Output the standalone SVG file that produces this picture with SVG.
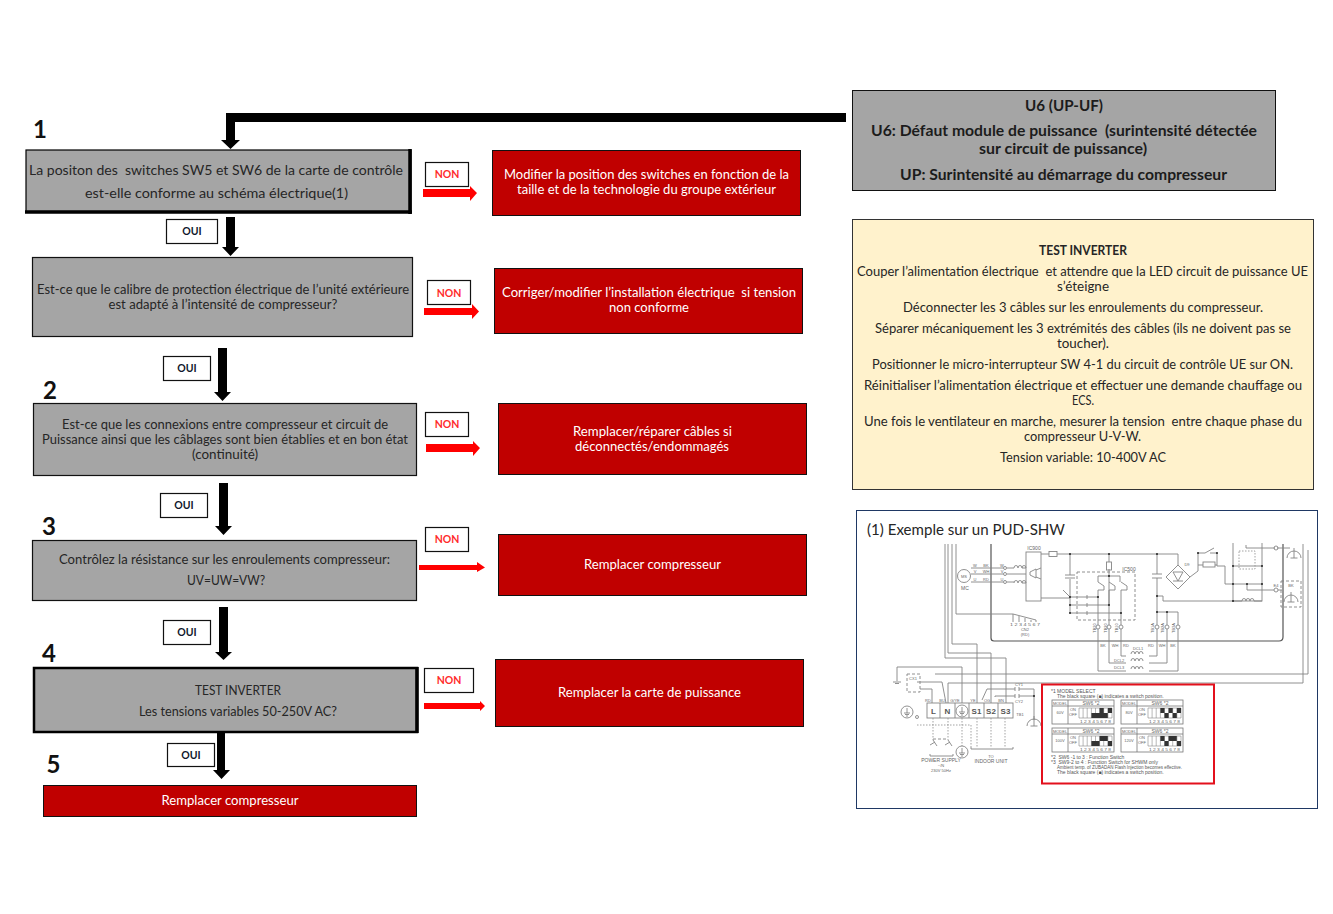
<svg xmlns="http://www.w3.org/2000/svg" xmlns:xlink="http://www.w3.org/1999/xlink" width="1333" height="914" viewBox="0 0 1333 914">
<style>
text{font-family:"Lato","Liberation Sans",sans-serif;font-size:13px;fill:#262626;text-anchor:middle;white-space:pre}
.q{fill:#a5a5a5;stroke:#111;stroke-width:1.2}
.r{fill:#c00000;stroke:#111;stroke-width:1}
.r2{fill:#fff}
.lab{fill:#fff;stroke:#111;stroke-width:1.2}
.no{font-size:10.500px;font-weight:700;fill:#ff2b2b}
.oui{font-size:10.500px;font-weight:700;fill:#10182c}
.num{font-size:24px;font-weight:700;fill:#111;text-anchor:start}
.b{font-weight:700;font-size:15px;fill:#1c1c1c}
.w{fill:none;stroke:#858585;stroke-width:.9}
.wd{fill:none;stroke:#858585;stroke-width:.9;stroke-dasharray:3 2}
.wt{fill:none;stroke:#999;stroke-width:.9;stroke-dasharray:1.500 1.500}
.wm{fill:none;stroke:#555;stroke-width:1.200}
.t{font-family:"Liberation Sans",sans-serif;font-size:5px;fill:#666}
.s{font-family:"Liberation Sans",sans-serif;font-size:4px;fill:#666}
.tb{font-family:"Liberation Sans",sans-serif;font-size:8px;font-weight:700;fill:#555}
.tl{font-family:"Liberation Sans",sans-serif;font-size:5px;fill:#555;text-anchor:start}
.tbl{fill:#fff;stroke:#777;stroke-width:.8}
</style>
<defs>
<g id="dip"><path d="M0 0h33v10H0zM4.100 0v10M8.200 0v10M12.400 0v10M16.500 0v10M20.600 0v10M24.700 0v10M28.900 0v10" fill="#fff" stroke="#888" stroke-width=".6"/><text class="s" x="16.500" y="14.500" textLength="31" lengthAdjust="spacingAndGlyphs">1 2 3 4 5 6 7 8</text></g>
<g id="gnd"><path d="M-7 3a7 7 0 0 1 14 0M0 -7V3M-3.500 3h7" fill="none" stroke="#858585" stroke-width=".9"/></g>
<g id="ear"><circle r="6" fill="none" stroke="#777" stroke-width=".8"/><path d="M0 -4V1M-3 1h6M-2 2.500h4M-1 4h2" fill="none" stroke="#777" stroke-width=".8"/></g>
<g id="coil"><path d="M0 0a2 2.500 0 0 1 4 0a2 2.500 0 0 1 4 0a2 2.500 0 0 1 4 0" fill="none" stroke="#858585" stroke-width=".9"/></g>
</defs>

<g id="connectors">
<path d="M846 113H226V140H221L230.500 149L240 140H235V122H846Z" fill="#000"/>
<path d="M226 217H235V247H239L230.500 256L222 247H226Z" fill="#000"/>
<path d="M218 348H227V392H231L222.500 401L214 392H218Z" fill="#000"/>
<path d="M219 483H228V526H232L223.500 535L215 526H219Z" fill="#000"/>
<path d="M219 607H228V652H232L223.500 660L215 652H219Z" fill="#000"/>
<path d="M217 733H225V770H230L221.500 779L213 770H217Z" fill="#000"/>
<path d="M423 189H470V186L477 193L470 201V197H423Z" fill="#f00"/>
<path d="M424 308H472V304L479 311.500L472 319V315H424Z" fill="#f00"/>
<path d="M426 444H473V441L480 448L473 456V452H426Z" fill="#f00"/>
<path d="M419 565H477V562L485 567.500L477 572V570H419Z" fill="#f00"/>
<path d="M424 703H480V701L485 706L480 711V709H424Z" fill="#f00"/>
</g>

<g id="n1-num"><text class="num" x="33" y="138">1</text></g>
<g id="n2-num"><text class="num" x="43" y="399">2</text></g>
<g id="n3-num"><text class="num" x="42" y="535">3</text></g>
<g id="n4-num"><text class="num" x="42" y="662">4</text></g>
<g id="n5-num"><text class="num" x="46.500" y="773">5</text></g>

<g id="q1"><rect x="26" y="150" width="385" height="62" fill="#a5a5a5" stroke="#000" stroke-width="1.200"/><path d="M25 212H412M410 149V214" stroke="#000" stroke-width="3.500" fill="none"/>
<text x="216" y="175" textLength="374" lengthAdjust="spacingAndGlyphs">La positon des  switches SW5 et SW6 de la carte de contrôle</text>
<text x="216.500" y="198" textLength="263" lengthAdjust="spacingAndGlyphs">est-elle conforme au schéma électrique(1)</text></g>
<g id="q2"><rect class="q" x="32.500" y="257.500" width="380" height="79"/>
<text x="223" y="294" textLength="372" lengthAdjust="spacingAndGlyphs">Est-ce que le calibre de protection électrique de l’unité extérieure</text>
<text x="223" y="309" textLength="229" lengthAdjust="spacingAndGlyphs">est adapté à l’intensité de compresseur?</text></g>
<g id="q3"><rect class="q" x="33.500" y="403.500" width="383" height="72"/>
<text x="225" y="429" textLength="326" lengthAdjust="spacingAndGlyphs">Est-ce que les connexions entre compresseur et circuit de</text>
<text x="225" y="444" textLength="366" lengthAdjust="spacingAndGlyphs">Puissance ainsi que les câblages sont bien établies et en bon état</text>
<text x="225" y="459" textLength="66" lengthAdjust="spacingAndGlyphs">(continuité)</text></g>
<g id="q4"><rect class="q" x="32.500" y="540.500" width="384" height="60"/>
<text x="224.500" y="564" textLength="331" lengthAdjust="spacingAndGlyphs">Contrôlez la résistance sur les enroulements compresseur:</text>
<text x="226" y="585" textLength="78" lengthAdjust="spacingAndGlyphs">UV=UW=VW?</text></g>
<g id="q5"><rect x="34" y="668" width="383" height="64" fill="#a5a5a5" stroke="#000" stroke-width="2.500"/><path d="M417 667V733" stroke="#000" stroke-width="3.500"/>
<text x="238" y="695" textLength="86" lengthAdjust="spacingAndGlyphs">TEST INVERTER</text>
<text x="238" y="716" textLength="198" lengthAdjust="spacingAndGlyphs">Les tensions variables 50-250V AC?</text></g>
<g id="end"><rect class="r" x="43.500" y="785.500" width="373" height="31"/>
<text class="r2" x="230" y="805" textLength="137" lengthAdjust="spacingAndGlyphs">Remplacer compresseur</text></g>

<g id="o1"><rect class="lab" x="166.500" y="219.500" width="51" height="24"/><text class="oui" x="192" y="235">OUI</text></g>
<g id="o2"><rect class="lab" x="163.500" y="356.500" width="47" height="24"/><text class="oui" x="187" y="372">OUI</text></g>
<g id="o3"><rect class="lab" x="160.500" y="493.500" width="47" height="24"/><text class="oui" x="184" y="509">OUI</text></g>
<g id="o4"><rect class="lab" x="163.500" y="620.500" width="47" height="24"/><text class="oui" x="187" y="636">OUI</text></g>
<g id="o5"><rect class="lab" x="167.500" y="743.500" width="47" height="23"/><text class="oui" x="191" y="759">OUI</text></g>

<g id="n1"><rect class="lab" x="425.500" y="162.500" width="43" height="24"/><text class="no" x="447" y="178">NON</text></g>
<g id="n2"><rect class="lab" x="427.500" y="280.500" width="43" height="24"/><text class="no" x="449" y="296.500">NON</text></g>
<g id="n3"><rect class="lab" x="425.500" y="412.500" width="43" height="24"/><text class="no" x="447" y="428">NON</text></g>
<g id="n4"><rect class="lab" x="425.500" y="527.500" width="43" height="24"/><text class="no" x="447" y="543">NON</text></g>
<g id="n5"><rect class="lab" x="424.500" y="668.500" width="49" height="24"/><text class="no" x="449" y="684">NON</text></g>

<g id="a1"><rect class="r" x="492.500" y="150.500" width="308" height="65"/>
<text class="r2" x="646.500" y="179" textLength="285" lengthAdjust="spacingAndGlyphs">Modifier la position des switches en fonction de la</text>
<text class="r2" x="646.500" y="194" textLength="259" lengthAdjust="spacingAndGlyphs">taille et de la technologie du groupe extérieur</text></g>
<g id="a2"><rect class="r" x="494.500" y="268.500" width="308" height="65"/>
<text class="r2" x="649" y="297" textLength="294" lengthAdjust="spacingAndGlyphs">Corriger/modifier l’installation électrique  si tension</text>
<text class="r2" x="649" y="312" textLength="80" lengthAdjust="spacingAndGlyphs">non conforme</text></g>
<g id="a3"><rect class="r" x="498.500" y="403.500" width="308" height="71"/>
<text class="r2" x="652.500" y="436" textLength="159" lengthAdjust="spacingAndGlyphs">Remplacer/réparer câbles si</text>
<text class="r2" x="652" y="451" textLength="154" lengthAdjust="spacingAndGlyphs">déconnectés/endommagés</text></g>
<g id="a4"><rect class="r" x="498.500" y="534.500" width="308" height="61"/>
<text class="r2" x="652.500" y="569" textLength="137" lengthAdjust="spacingAndGlyphs">Remplacer compresseur</text></g>
<g id="a5"><rect class="r" x="495.500" y="659.500" width="308" height="67"/>
<text class="r2" x="649.500" y="697" textLength="183" lengthAdjust="spacingAndGlyphs">Remplacer la carte de puissance</text></g>

<g id="header"><rect x="852.500" y="90.500" width="423" height="100" fill="#a5a5a5" stroke="#111" stroke-width="1"/>
<text class="b" x="1064" y="111" textLength="78" lengthAdjust="spacingAndGlyphs">U6 (UP-UF)</text>
<text class="b" x="1064" y="136" textLength="386" lengthAdjust="spacingAndGlyphs">U6: Défaut module de puissance  (surintensité détectée</text>
<text class="b" x="1063" y="154" textLength="168" lengthAdjust="spacingAndGlyphs">sur circuit de puissance)</text>
<text class="b" x="1063.500" y="180" textLength="327" lengthAdjust="spacingAndGlyphs">UP: Surintensité au démarrage du compresseur</text></g>

<g id="test"><rect x="852.500" y="219.500" width="461" height="270" fill="#fff2cc" stroke="#333" stroke-width="1"/>
<text x="1083" y="255" textLength="88" lengthAdjust="spacingAndGlyphs" style="font-weight:700">TEST INVERTER</text>
<text x="1082.500" y="276" textLength="451" lengthAdjust="spacingAndGlyphs">Couper l’alimentation électrique  et attendre que la LED circuit de puissance UE</text>
<text x="1083" y="291" textLength="52" lengthAdjust="spacingAndGlyphs">s’éteigne</text>
<text x="1083" y="312" textLength="360" lengthAdjust="spacingAndGlyphs">Déconnecter les 3 câbles sur les enroulements du compresseur.</text>
<text x="1083" y="333" textLength="416" lengthAdjust="spacingAndGlyphs">Séparer mécaniquement les 3 extrémités des câbles (ils ne doivent pas se</text>
<text x="1083" y="348" textLength="52" lengthAdjust="spacingAndGlyphs">toucher).</text>
<text x="1082.500" y="369" textLength="421" lengthAdjust="spacingAndGlyphs">Positionner le micro-interrupteur SW 4-1 du circuit de contrôle UE sur ON.</text>
<text x="1083" y="390" textLength="438" lengthAdjust="spacingAndGlyphs">Réinitialiser l’alimentation électrique et effectuer une demande chauffage ou</text>
<text x="1083" y="405" textLength="22" lengthAdjust="spacingAndGlyphs">ECS.</text>
<text x="1083" y="426" textLength="438" lengthAdjust="spacingAndGlyphs">Une fois le ventilateur en marche, mesurer la tension  entre chaque phase du</text>
<text x="1082.500" y="441" textLength="117" lengthAdjust="spacingAndGlyphs">compresseur U-V-W.</text>
<text x="1083" y="462" textLength="166" lengthAdjust="spacingAndGlyphs">Tension variable: 10-400V AC</text></g>

<g id="example"><rect x="856.500" y="510.500" width="461" height="298" fill="#fff" stroke="#1f3864" stroke-width="1"/>
<text x="966" y="535" textLength="198" lengthAdjust="spacingAndGlyphs" style="font-size:16px">(1) Exemple sur un PUD-SHW</text>
<!-- board -->
<path class="wm" d="M991 544V638Q991 641 994 641H1279Q1283 641 1283 637V544"/>
<path class="w" d="M945 544V658H1006V703M948 544V653H991V703M952 544V644H977V703M956 544V614H1013M1308 550V674H935M1303 544V683H948V703"/>
<!-- motor side -->
<circle cx="964" cy="576" r="6.500" class="w"/><text class="s" x="964" y="578">MS</text><text class="t" x="965" y="590">MC</text>
<path class="w" d="M971 568H1003M971 574H1003M971 582H1003M1007 574H1026"/>
<circle cx="1005" cy="568" r="1.500" class="w"/><circle cx="1005" cy="574" r="1.500" class="w"/><circle cx="1005" cy="582" r="1.500" class="w"/>
<use xlink:href="#coil" x="1014" y="568"/><use xlink:href="#coil" x="1014" y="583"/><path class="w" d="M1007 568H1014M1007 582H1014M1026 568H1026M1022 568H1026M1022 583H1026"/>
<text class="s" x="975" y="566.500">W</text><text class="s" x="986" y="566.500">BK</text><text class="s" x="975" y="572.500">V</text><text class="s" x="986" y="572.500">WH</text><text class="s" x="975" y="580.500">U</text><text class="s" x="986" y="580.500">RD</text><text class="s" x="1002" y="566.500">W</text><text class="s" x="1002" y="572.500">V</text><text class="s" x="1002" y="580.500">U</text>
<rect class="w" x="1026" y="552" width="15" height="49"/><text class="t" x="1034" y="549.500">IC900</text>
<path class="w" d="M1030 572L1036 569V578L1030 575ZM1036 570L1041 568M1036 577L1041 579"/>
<path class="w" d="M1041 554H1049M1057 554H1178V565M1041 598H1070M1070 554V575M1070 579V613M1063 590L1070 597M1109 554V562M1109 569V605"/>
<rect class="w" x="1049" y="551.500" width="8" height="5"/><path class="w" d="M1065 575H1075M1065 578H1075"/>
<rect class="wd" x="1077" y="572" width="58" height="48"/><text class="t" x="1129" y="570.500">IC500</text>
<rect class="w" x="1106.500" y="562" width="5" height="8"/>
<path class="w" d="M1098 576H1120M1098 576V582M1120 576V582M1070 597H1098M1070 605H1109M1070 613H1121M1098 590V625M1109 590V625M1121 590V625M1098 582L1104 586V590H1098M1109 582L1115 586V590H1109M1121 582L1127 586V590H1121M1087 595V599M1087 603V607M1087 611V615"/>
<circle class="w" cx="1098" cy="627" r="2"/><circle class="w" cx="1109" cy="627" r="2"/><circle class="w" cx="1121" cy="627" r="2"/>
<circle class="w" cx="1157" cy="627" r="2"/><circle class="w" cx="1167" cy="627" r="2"/><circle class="w" cx="1178" cy="627" r="2"/>
<g><text class="s" transform="translate(1096 628) rotate(-90)">TB30</text><text class="s" transform="translate(1107 628) rotate(-90)">TB20</text><text class="s" transform="translate(1118 628) rotate(-90)">TB10</text><text class="s" transform="translate(1154 628) rotate(-90)">TB1A</text><text class="s" transform="translate(1164 628) rotate(-90)">TB2A</text><text class="s" transform="translate(1175 628) rotate(-90)">TB3A</text></g>
<path class="w" d="M1157 554V574M1157 578V625M1157 596H1163V601H1233M1157 612H1178V625M1167 612V625M1152 574H1162M1152 578H1162"/>
<path class="w" d="M1178 565L1190 577L1178 589L1166 577ZM1173 572H1183L1178 581ZM1173 581H1183M1190 577L1198 571V553H1205M1210 553H1217V566H1225V584H1262"/>
<rect class="w" x="1203" y="562" width="12" height="5"/><path class="w" d="M1198 565H1203M1215 565H1217M1205 553L1214 548"/>
<rect class="w" x="1233" y="566" width="29" height="35"/><rect class="wt" x="1239" y="551" width="16" height="18"/>
<path class="w" d="M1233 566V543M1262 566V543M1246 545V548H1275M1277 548H1290M1247 584V590H1274M1278 590H1282M1233 601H1242M1254 601H1262"/>
<use xlink:href="#coil" x="1242" y="601"/><circle class="w" cx="1276" cy="590" r="2"/><circle class="w" cx="1276" cy="548" r="2"/>
<rect class="wd" x="1281" y="581" width="20" height="26"/><use xlink:href="#gnd" x="1294" y="555"/><use xlink:href="#gnd" x="1291" y="599"/>
<text class="s" x="1276" y="586.500">E4</text><text class="s" x="1291" y="587">BK</text><text class="s" x="1187" y="566">D9</text>
<g fill="#222"><circle cx="1070" cy="554" r="1"/><circle cx="1070" cy="597" r="1"/><circle cx="1070" cy="605" r="1"/><circle cx="1070" cy="613" r="1"/><circle cx="1109" cy="554" r="1"/><circle cx="1109" cy="576" r="1"/><circle cx="1157" cy="554" r="1"/><circle cx="1157" cy="596" r="1"/><circle cx="1157" cy="612" r="1"/><circle cx="1167" cy="612" r="1"/><circle cx="1098" cy="597" r="1"/><circle cx="1109" cy="605" r="1"/><circle cx="1121" cy="613" r="1"/><circle cx="1233" cy="584" r="1"/><circle cx="1247" cy="584" r="1"/><circle cx="1262" cy="584" r="1"/><circle cx="1233" cy="601" r="1"/><circle cx="1233" cy="566" r="1"/><circle cx="1262" cy="566" r="1"/><circle cx="1198" cy="553" r="1"/><circle cx="1217" cy="553" r="1"/></g>
<!-- CN2 -->
<path class="w" d="M1013 614V622M1019 616V622M1025 618V622M1031 620V622M1036 620V622M1013 614L1036 620"/>
<text class="s" x="1025" y="626" textLength="30" lengthAdjust="spacingAndGlyphs">1 2 3 4 5 6 7</text><text class="s" x="1025" y="630.500">CN2</text><text class="s" x="1025" y="635.500">(RD)</text>
<!-- DCL -->
<path class="w" d="M1098 629V671H1126M1109 629V663H1126M1121 629V656H1126M1149 656H1157V629M1149 663H1167V629M1149 671H1178V629"/>
<use xlink:href="#coil" x="1131" y="654"/><use xlink:href="#coil" x="1131" y="661"/><use xlink:href="#coil" x="1131" y="669"/>
<text class="s" x="1103" y="646.500">BK</text><text class="s" x="1115" y="646.500">WH</text><text class="s" x="1126" y="646.500">RD</text><text class="s" x="1151" y="646.500">RD</text><text class="s" x="1162" y="646.500">WH</text><text class="s" x="1173" y="646.500">BK</text>
<text class="s" x="1138" y="650">DCL1</text><text class="s" x="1119" y="661.500">DCL2</text><text class="s" x="1119" y="669">DCL3</text>
<!-- terminal block -->
<path class="w" d="M897 667H962V703M897 667V681M893 682H901M895 683.500H899M917 682H942L946 703M920 689H932V703"/>
<rect class="wd" x="907" y="674" width="13" height="18"/><text class="s" x="913" y="680">CX1</text>
<rect class="w" x="927" y="703" width="86" height="15" style="fill:#fff"/><path class="w" d="M940 703V718M955 703V718M969 703V718M984 703V718M998 703V718"/>
<text class="tb" x="933.500" y="714">L</text><text class="tb" x="947.500" y="714">N</text><use xlink:href="#ear" x="962" y="711"/><text class="tb" x="976.500" y="714">S1</text><text class="tb" x="991" y="714">S2</text><text class="tb" x="1005.500" y="714">S3</text>
<text class="s" x="928" y="701.500">RD</text><text class="s" x="942" y="701.500">BU</text><text class="s" x="955" y="701.500">G/YE</text><text class="s" x="973" y="701.500">YE</text><text class="s" x="987" y="701.500">OG</text><text class="s" x="1001" y="701.500">BN</text><text class="s" x="1020" y="716">TB1</text>
<path class="w" d="M982 700L987 689H1015M1019 689H1034V720M995 697V696H1015M1019 696H1034M1015 687V691M1019 687V691M1015 694V698M1019 694V698"/>
<circle cx="1034" cy="696" r="1" fill="#222"/><use xlink:href="#gnd" x="1034" y="723"/>
<text class="s" x="1019" y="686">CY1</text><text class="s" x="1019" y="702.500">CY2</text>
<path class="wt" d="M933 718V740M948 718V740M962 718V746M977 718V747M991 718V747M1005 718V747M917 725H971V747"/>
<circle class="w" cx="917" cy="717" r="1.500"/><use xlink:href="#ear" x="907" y="712"/><use xlink:href="#ear" x="962" y="752"/>
<path class="w" d="M930 745L935 742M933 740L937 746M945 745L950 742M948 740L952 746"/><path class="wd" d="M933 739H948"/>
<path class="w" d="M971 747V749H1013V747M930 754V756H953V754"/>
<text class="s" x="991" y="757.500">TO</text><text class="t" x="991" y="763">INDOOR UNIT</text><text class="t" x="941" y="762">POWER SUPPLY</text><text class="s" x="941" y="766.500">~/N</text><text class="s" x="941" y="771.500">230V 50Hz</text>
<!-- model select -->
<rect x="1042" y="684.500" width="172" height="99" fill="#fff" stroke="#e3101c" stroke-width="2"/>
<text class="tl" x="1051" y="692.500">*1 MODEL SELECT</text><text class="tl" x="1057" y="697.500">The black square (■) indicates a switch position.</text>
<rect class="tbl" x="1052" y="700" width="62" height="24"/><path class="tbl" d="M1052 706H1114M1068 700V724"/><text class="s" x="1060" y="705">MODEL</text><text class="t" x="1091" y="705">SW6 *2</text><text class="s" x="1060" y="714">60V</text><text class="s" x="1073" y="711">ON</text><text class="s" x="1073" y="716">OFF</text>
<rect class="tbl" x="1121" y="700" width="62" height="24"/><path class="tbl" d="M1121 706H1183M1137 700V724"/><text class="s" x="1129" y="705">MODEL</text><text class="t" x="1160" y="705">SW6 *2</text><text class="s" x="1129" y="714">80V</text><text class="s" x="1142" y="711">ON</text><text class="s" x="1142" y="716">OFF</text>
<rect class="tbl" x="1052" y="728" width="62" height="24"/><path class="tbl" d="M1052 734H1114M1068 728V752"/><text class="s" x="1060" y="733">MODEL</text><text class="t" x="1091" y="733">SW6 *2</text><text class="s" x="1060" y="742">100V</text><text class="s" x="1073" y="739">ON</text><text class="s" x="1073" y="744">OFF</text>
<rect class="tbl" x="1121" y="728" width="62" height="24"/><path class="tbl" d="M1121 734H1183M1137 728V752"/><text class="s" x="1129" y="733">MODEL</text><text class="t" x="1160" y="733">SW6 *2</text><text class="s" x="1129" y="742">120V</text><text class="s" x="1142" y="739">ON</text><text class="s" x="1142" y="744">OFF</text>
<use xlink:href="#dip" x="1079" y="708"/><use xlink:href="#dip" x="1148" y="708"/><use xlink:href="#dip" x="1079" y="736"/><use xlink:href="#dip" x="1148" y="736"/>
<path fill="#333" d="M1091.400 713h8.200v5h-8.200zM1099.600 708h4.100v10h-4.100zM1103.700 713h4.100v5h-4.100zM1107.900 708h4.100v5h-4.100z"/>
<path fill="#333" transform="translate(-1 0)" d="M1161.400 708h4.100v5h-4.100zM1165.500 713h4.100v5h-4.100zM1169.600 708h4.100v5h-4.100zM1173.700 713h4.100v5h-4.100zM1177.900 708h4.100v5h-4.100z"/>
<path fill="#333" d="M1091.400 741h8.200v5h-8.200zM1099.600 736h8.200v5h-8.200zM1107.900 741h4.100v5h-4.100z"/>
<path fill="#333" transform="translate(-1 0)" d="M1161.400 736h4.100v5h-4.100zM1165.500 741h4.100v5h-4.100zM1169.600 736h8.200v5h-8.200zM1177.900 741h4.100v5h-4.100z"/>
<text class="tl" x="1051" y="759">*2  SW6 -1 to 3 : Function Switch</text>
<text class="tl" x="1051" y="764">*3  SW9-2 to 4 : Function Switch for SHWM only</text>
<text class="tl" x="1057" y="769" textLength="125" lengthAdjust="spacingAndGlyphs">Ambient temp. of ZUBADAN Flash Injection becomes effective.</text>
<text class="tl" x="1057" y="774">The black square (■) indicates a switch position.</text>
</g>
</svg>
